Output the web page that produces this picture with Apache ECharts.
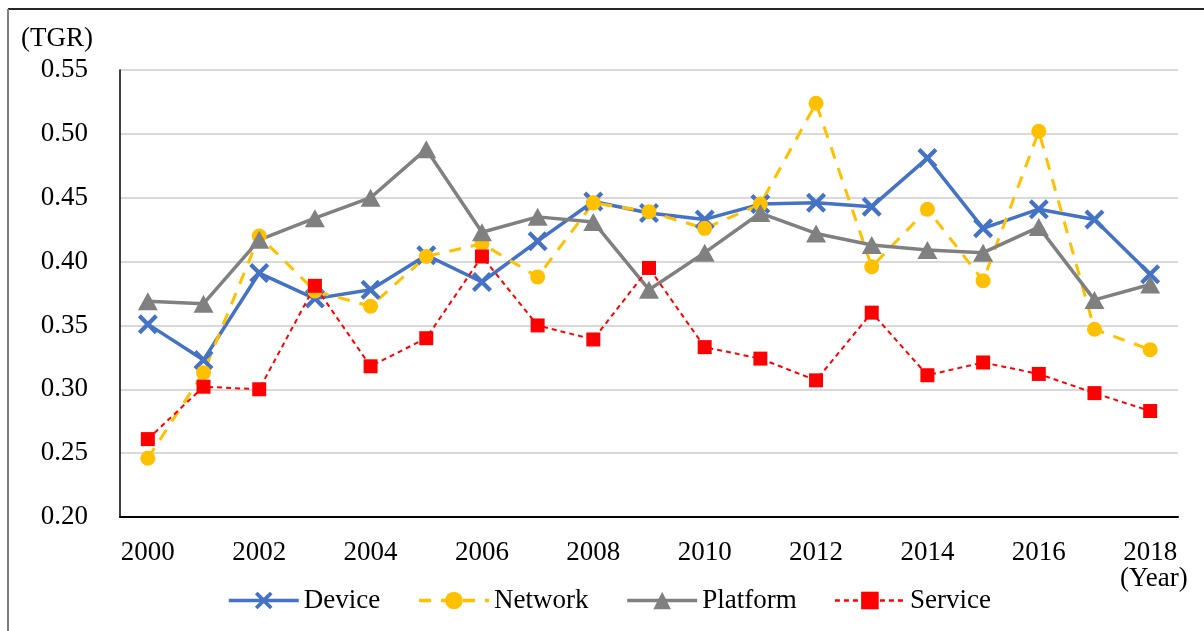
<!DOCTYPE html>
<html>
<head>
<meta charset="utf-8">
<script src="https://cdn.jsdelivr.net/npm/echarts@6/dist/echarts.min.js"></script>
<style>
  html, body { margin: 0; padding: 0; background: #fff; }
  #chart { width: 1204px; height: 631px; }
</style>
</head>
<body>
<div id="chart"></div>
<script>
// Years on the horizontal axis
const years = ['2000','2001','2002','2003','2004','2005','2006','2007','2008','2009',
               '2010','2011','2012','2013','2014','2015','2016','2017','2018'];

// TGR per technology layer
const device   = [0.351,0.323,0.391,0.371,0.378,0.405,0.384,0.416,0.447,0.438,
                  0.433,0.445,0.446,0.443,0.481,0.426,0.441,0.433,0.390];
const network  = [0.246,0.313,0.420,0.377,0.365,0.404,0.414,0.388,0.446,0.439,
                  0.426,0.445,0.524,0.396,0.441,0.385,0.502,0.347,0.331];
const platform = [0.369,0.367,0.417,0.434,0.450,0.488,0.423,0.435,0.431,0.378,
                  0.407,0.438,0.422,0.413,0.409,0.407,0.427,0.370,0.382];
const service  = [0.261,0.302,0.300,0.381,0.318,0.340,0.404,0.350,0.339,0.395,
                  0.333,0.324,0.307,0.360,0.311,0.321,0.312,0.297,0.283];

const FONT = '"Liberation Serif", "Times New Roman", serif';
const FS = 27;
const crossSymbol = 'path://M0,1.5L1.5,0L5,3.5L8.5,0L10,1.5L6.5,5L10,8.5L8.5,10L5,6.5L1.5,10L0,8.5L3.5,5Z';

const chart = echarts.init(document.getElementById('chart'), null, { renderer: 'canvas' });

chart.setOption({
  animation: false,
  backgroundColor: '#fff',
  grid: { left: 120, top: 70, right: 26, bottom: 114, containLabel: false },
  legend: {
    left: 222,
    top: 582,
    itemWidth: 70,
    itemHeight: 22,
    itemGap: 37,
    textStyle: { fontFamily: FONT, fontSize: FS, color: '#000' },
    data: [
      { name: 'Device',   lineStyle: { width: 3.5 } },
      { name: 'Network',  lineStyle: { width: 3.5 } },
      { name: 'Platform', lineStyle: { width: 3.5 } },
      { name: 'Service',  lineStyle: { width: 2.5 } }
    ]
  },
  xAxis: {
    type: 'category',
    data: years,
    boundaryGap: true,
    axisLine: { lineStyle: { color: '#000', width: 2 } },
    axisTick: { show: false },
    axisLabel: { interval: 1, margin: 22, fontFamily: FONT, fontSize: FS, color: '#000' },
    splitLine: { show: false }
  },
  yAxis: {
    type: 'value',
    min: 0.2,
    max: 0.55,
    interval: 0.05,
    axisLine: { show: true, lineStyle: { color: '#000', width: 1.5 } },
    axisTick: { show: false },
    axisLabel: {
      margin: 32,
      fontFamily: FONT, fontSize: FS, color: '#000',
      formatter: v => v.toFixed(2)
    },
    splitLine: { lineStyle: { color: '#d9d9d9', width: 2 } }
  },
  series: [
    {
      name: 'Device', type: 'line', data: device,
      symbol: crossSymbol, symbolSize: 20,
      lineStyle: { color: '#4472C4', width: 3.5 },
      itemStyle: { color: '#4472C4' }
    },
    {
      name: 'Network', type: 'line', data: network,
      symbol: 'circle', symbolSize: 15,
      lineStyle: { color: '#FFC000', width: 3, type: [12, 10] },
      itemStyle: { color: '#FFC000' }
    },
    {
      name: 'Platform', type: 'line', data: platform,
      symbol: 'triangle', symbolSize: [20, 18],
      lineStyle: { color: '#808080', width: 3.5 },
      itemStyle: { color: '#808080' }
    },
    {
      name: 'Service', type: 'line', data: service,
      symbol: 'rect', symbolSize: 14,
      lineStyle: { color: '#FF0000', width: 2, type: [5, 4] },
      itemStyle: { color: '#FF0000' }
    }
  ],
  graphic: [
    { type: 'line', shape: { x1: 8, y1: 9, x2: 1204, y2: 9 }, style: { stroke: '#262626', lineWidth: 2 } },
    { type: 'line', shape: { x1: 8, y1: 9, x2: 8, y2: 631 }, style: { stroke: '#7f7f7f', lineWidth: 2 } },
    { type: 'text', left: 21, top: 25, style: { text: '(TGR)', font: FS + 'px ' + FONT, fill: '#000' } },
    { type: 'text', left: 1120, top: 565, style: { text: '(Year)', font: FS + 'px ' + FONT, fill: '#000' } }
  ]
});
</script>
</body>
</html>
